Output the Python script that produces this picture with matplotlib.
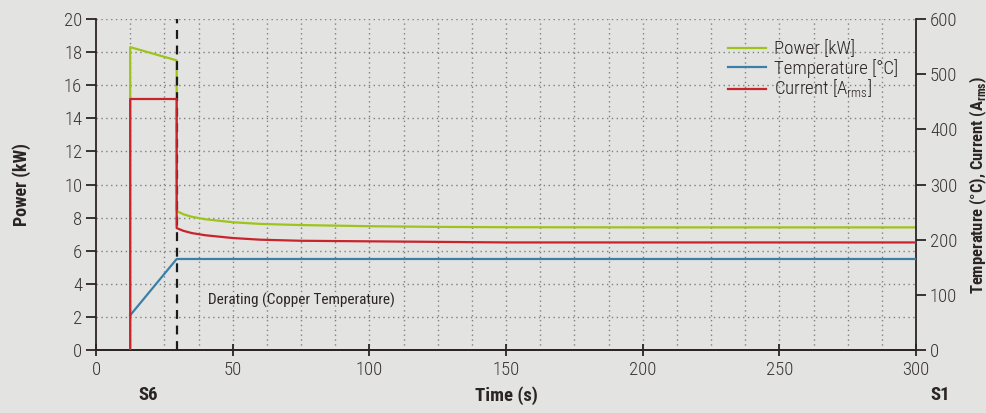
import matplotlib
matplotlib.use("Agg")
import matplotlib.pyplot as plt
from matplotlib import font_manager
import numpy as np

names = {f.name for f in font_manager.fontManager.ttflist}
fam = [n for n in ["Roboto Condensed", "Liberation Sans Narrow", "Liberation Sans", "DejaVu Sans"] if n in names]
plt.rcParams['font.family'] = fam

# Data (time in s)
power_t = [12.5, 12.5, 29.5, 29.5, 32, 35, 40, 50, 60, 75, 100, 125, 150, 200, 250, 300]
power_kw = [0, 18.3, 17.5, 8.4, 8.2, 8.05, 7.9, 7.72, 7.62, 7.55, 7.48, 7.44, 7.42, 7.41, 7.41, 7.41]

temp_t = [12.5, 29.5, 300]
temp_c = [63, 165, 165]

curr_t = [12.5, 12.5, 29.5, 29.5, 32, 35, 40, 50, 60, 75, 100, 125, 150, 200, 250, 300]
curr_a = [0, 455, 455, 221, 216, 212, 208, 203, 200, 198, 197, 196, 195, 195, 195, 195]

derate_t = 29.5
xticks = [0, 50, 100, 150, 200, 250, 300]
yticks_left = list(range(0, 21, 2))
yticks_right = list(range(0, 601, 100))

bg = '#e3e3e1'
green = '#9dc41a'
blue = '#3b7fab'
red = '#c9232c'
txt = '#2a2522'

fig = plt.figure(figsize=(9.87, 4.13), dpi=100, facecolor=bg)
ax = fig.add_axes([0.0973, 0.1525, 0.8308, 0.8015], facecolor=bg)
ax2 = ax.twinx()

ax.set_xlim(0, 300)
ax.set_ylim(0, 20)
ax2.set_ylim(0, 600)

# grid
for x in np.arange(12.5, 300, 12.5):
    ax.axvline(x, color='#808080', lw=1.0, ls=(0, (1, 2.5)), zorder=0)
for y in yticks_left[1:]:
    ax.axhline(y, color='#808080', lw=1.0, ls=(0, (1, 2.5)), zorder=0)

l1, = ax.plot(power_t, power_kw, color=green, lw=1.6, zorder=3, label='Power [kW]')
l2, = ax2.plot(temp_t, temp_c, color=blue, lw=1.6, zorder=3, label='Temperature [°C]')
l3, = ax2.plot(curr_t, curr_a, color=red, lw=1.6, zorder=3, label='Current [A$_{\\mathregular{rms}}$]')
ax.axvline(derate_t, color='#1a1a1a', lw=1.6, ls=(0, (4, 3)), zorder=4)

ax.text(41, 3.0, 'Derating (Copper Temperature)', fontsize=11, color=txt, va='center', ha='left')

for a in (ax, ax2):
    a.spines['top'].set_visible(False)
    for s in a.spines.values():
        s.set_color(txt)
        s.set_linewidth(1.3)
ax.spines['right'].set_visible(False)
ax2.spines['left'].set_visible(False)

ax.set_xticks(xticks)
ax.set_yticks(yticks_left)
ax2.set_yticks(yticks_right)
ax.tick_params(axis='x', direction='inout', length=8, width=1.3, colors=txt, labelsize=13.5, pad=4)
ax.tick_params(axis='y', direction='out', length=7, width=1.3, colors=txt, labelsize=13.5, pad=3)
ax2.tick_params(axis='y', direction='out', length=7, width=1.3, colors=txt, labelsize=13.5, pad=3)
for lab in ax.get_xticklabels() + ax.get_yticklabels() + ax2.get_yticklabels():
    lab.set_color('#3a3530')
    lab.set_fontweight('light')

ax.set_ylabel('Power (kW)', fontsize=13, fontweight='bold', color=txt, labelpad=24)
ax2.set_ylabel('Temperature (°C), Current (A$_{\\mathregular{rms}}$)', fontsize=12, fontweight='bold', color=txt, labelpad=7)

fig.text(0.513, 0.043, 'Time (s)', fontsize=13.5, fontweight='bold', color=txt, ha='center', va='center')
fig.text(0.150, 0.043, 'S6', fontsize=13.5, fontweight='bold', color=txt, ha='center', va='center')
fig.text(0.953, 0.043, 'S1', fontsize=13.5, fontweight='bold', color=txt, ha='center', va='center')

leg = ax.legend(handles=[l1, l2, l3], loc='upper left', bbox_to_anchor=(0.762, 0.958),
                frameon=False, fontsize=13.5, handlelength=2.0, handletextpad=0.45,
                labelspacing=0.02, borderaxespad=0)
for t in leg.get_texts():
    t.set_color(txt)
    t.set_fontweight('light')

fig.savefig('out.png', dpi=100, facecolor=bg)
